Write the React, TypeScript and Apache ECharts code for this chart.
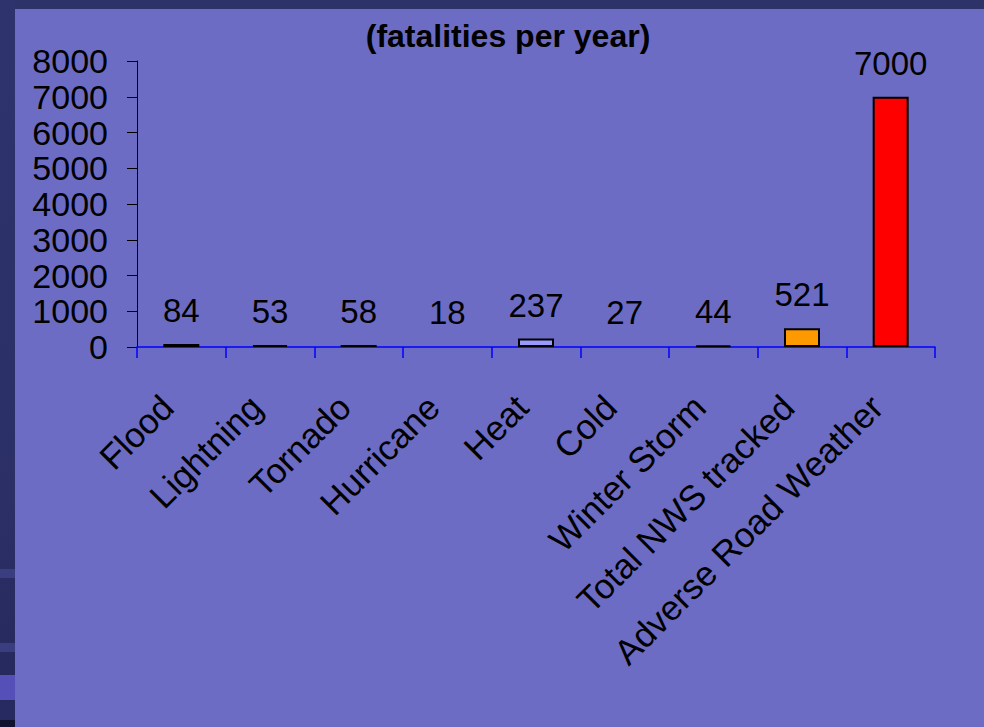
import React, { useEffect, useRef } from "react";
import * as echarts from "echarts";

const categories = [
  "Flood",
  "Lightning",
  "Tornado",
  "Hurricane",
  "Heat",
  "Cold",
  "Winter Storm",
  "Total NWS tracked",
  "Adverse Road Weather",
];
const fatalities = [84, 53, 58, 18, 237, 27, 44, 521, 7000];
const barColors = [
  "#9999FF",
  "#9999FF",
  "#9999FF",
  "#9999FF",
  "#9999FF",
  "#9999FF",
  "#9999FF",
  "#FF9900",
  "#FF0000",
];
const yTicks = { min: 0, max: 8000, interval: 1000 };
const titleText = "(fatalities per year)";

const FONT = "'Liberation Sans', Arial, Helvetica, sans-serif";

export default function App() {
  const ref = useRef<HTMLDivElement>(null);
  useEffect(() => {
    document.body.style.margin = "0";
    const chart = echarts.init(ref.current!, undefined, { renderer: "svg" });
    chart.setOption({
      animation: false,
      backgroundColor: "#2D3268",
      graphic: [
        { type: "rect", z: -10, shape: { x: 15, y: 9, width: 969, height: 718 }, style: { fill: "#6C6CC4" } },
        { type: "rect", z: -10, shape: { x: 0, y: 0, width: 15, height: 727 }, style: { fill: { type: "linear", x: 0, y: 0, x2: 0, y2: 1, colorStops: [ { offset: 0, color: "#2E336E" }, { offset: 0.7, color: "#2B2F66" }, { offset: 1, color: "#24285A" } ] } } },
        { type: "rect", z: -9, shape: { x: 0, y: 569, width: 15, height: 9 }, style: { fill: "#3A3D80" } },
        { type: "rect", z: -9, shape: { x: 0, y: 643, width: 15, height: 9 }, style: { fill: "#3A3D80" } },
        { type: "rect", z: -9, shape: { x: 0, y: 675, width: 15, height: 25 }, style: { fill: "#5550B8" } },
        { type: "rect", z: -9, shape: { x: 0, y: 700, width: 15, height: 20 }, style: { fill: "#262A60" } },
        { type: "rect", z: -9, shape: { x: 0, y: 720, width: 15, height: 7 }, style: { fill: "#10112E" } },
      ],
      title: {
        text: titleText,
        left: 503,
        top: 15,
        textAlign: "center",
        textStyle: { fontFamily: FONT, fontWeight: "bold", fontSize: 32, color: "#000" },
      },
      grid: { left: 137, right: 49, top: 61, bottom: 380, containLabel: false },
      xAxis: {
        type: "category",
        data: categories,
        axisLine: { lineStyle: { color: "#0000FF", width: 1.5 } },
        axisTick: { show: true, length: 11, lineStyle: { color: "#0000FF", width: 1.5 } },
        axisLabel: {
          rotate: 45,
          interval: 0,
          margin: 40,
          padding: [0, 20, 0, 0],
          fontSize: 35,
          fontFamily: FONT,
          color: "#000",
        },
        splitLine: { show: false },
      },
      yAxis: {
        type: "value",
        min: yTicks.min,
        max: yTicks.max,
        interval: yTicks.interval,
        axisLine: { show: true, lineStyle: { color: "#000", width: 1 } },
        axisTick: { show: true, length: 10, lineStyle: { color: "#000", width: 1 } },
        axisLabel: {
          margin: 29,
          fontSize: 34,
          fontFamily: FONT,
          color: "#000",
          formatter: (v: number) => String(v),
        },
        splitLine: { show: false },
      },
      series: [
        {
          type: "bar",
          barWidth: 36,
          data: fatalities.map((v, i) => ({
            value: v,
            itemStyle: {
              color: barColors[i],
              borderColor: "#000",
              borderWidth: v < 30 ? 0 : 2,
              opacity: v < 30 ? 0 : 1,
            },
          })),
          label: {
            show: true,
            position: "top",
            distance: 17,
            fontSize: 33,
            fontFamily: FONT,
            color: "#000",
            opacity: 1,
          },
        },
      ],
    });
    return () => chart.dispose();
  }, []);
  return <div ref={ref} style={{ width: 984, height: 727 }} />;
}
